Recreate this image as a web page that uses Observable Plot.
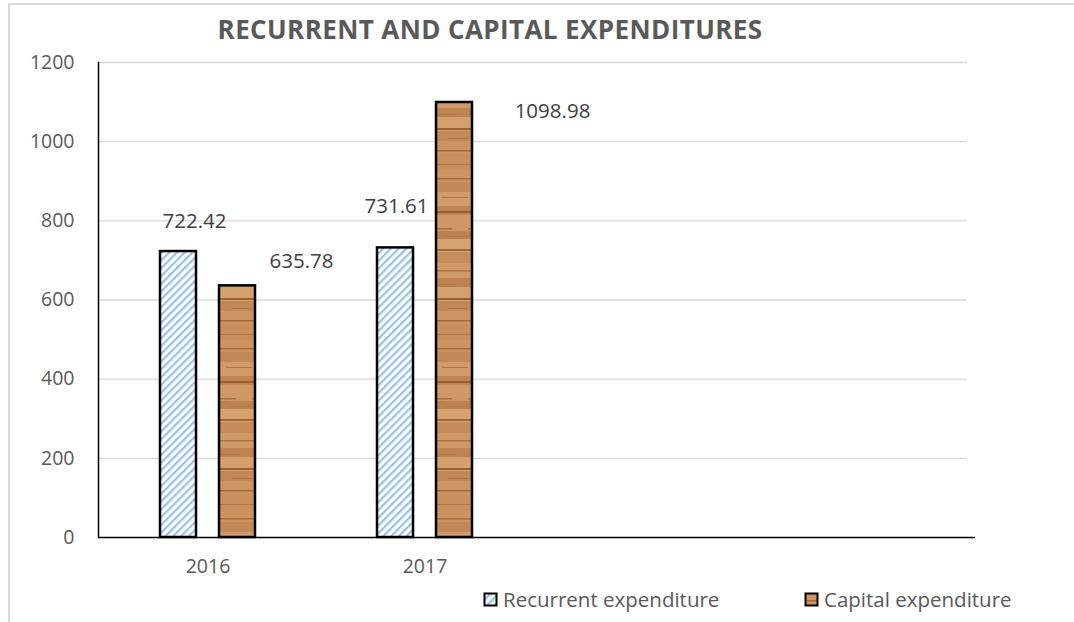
<!DOCTYPE html>
<html><head><meta charset="utf-8">
<script src="https://cdn.jsdelivr.net/npm/d3@7"></script>
<script src="https://cdn.jsdelivr.net/npm/@observablehq/plot@0.6"></script>
<style>
body{margin:0;background:#fff;font-family:"Open Sans",sans-serif;}
#wrap{position:relative;width:1074px;height:622px;overflow:hidden;background:#fff;}
#border{position:absolute;left:8px;top:3px;width:1200px;height:800px;border-left:2px solid #d9d9d9;border-top:2px solid #d9d9d9;}
#title{position:absolute;top:11px;left:0;width:980px;text-align:center;font-weight:700;font-size:26px;color:#595959;letter-spacing:0.4px;}
#chart{position:absolute;left:0;top:0;}
.leg{position:absolute;top:585px;display:flex;align-items:center;font-size:20.5px;color:#595959;white-space:nowrap;}
.leg svg{margin-right:5px;}
</style>
</head><body>
<div id="wrap">
  <div id="border"></div>
  <div id="chart"></div>
  <div id="title">RECURRENT AND CAPITAL EXPENDITURES</div>
  <div class="leg" id="leg0" style="left:483px"></div>
  <div class="leg" id="leg1" style="left:804px"></div>
</div>
<script>
// ---- data ----
const years = ["2016", "2017"];
const blankSlots = [" ", "  "];
const series = ["Recurrent expenditure", "Capital expenditure"];
const recurrent = [722.42, 731.61];
const capital = [635.78, 1098.98];
const yTicks = [0, 200, 400, 600, 800, 1000, 1200];

// ---- style ----
const seriesFill = ["url(#stripes)", "url(#wood)"];
const barInsets = [[61, 120], [120, 61]];      // [left, right] inset of each series inside the year band
const seriesShift = [-29.5, 29.5];             // label base shift per series (bar centre)
const labelNudge = [[16, -30], [64, -24], [1, -41], [98, 9]]; // rec2016, cap2016, rec2017, cap2017

const seriesRows = series.map((s, i) => years.map((yr, j) => ({
  year: yr, series: s, value: (i === 0 ? recurrent : capital)[j]
})));

const labelMarks = years.flatMap((yr, j) => series.map((s, i) => {
  const k = j * 2 + i;
  return Plot.text([seriesRows[i][j]], {
    x: "year", y: "value",
    text: d => d.value.toFixed(2),
    dx: seriesShift[i] + labelNudge[k][0], dy: labelNudge[k][1],
    fill: "#404040", fontSize: 20.5
  });
}));

const chart = Plot.plot({
  width: 1074, height: 580,
  marginLeft: 98, marginRight: 107, marginTop: 62, marginBottom: 43,
  style: {fontFamily: "'Open Sans', sans-serif", fontSize: "19.5px", color: "#595959", background: "transparent", overflow: "visible"},
  x: {domain: [...years, ...blankSlots], padding: 0, label: null, tickSize: 0, tickPadding: 22},
  y: {domain: [0, 1200], ticks: yTicks, tickFormat: d => String(d), label: null, tickSize: 0, tickPadding: 24},
  marks: [
    Plot.ruleY(yTicks.slice(1), {stroke: "#d9d9d9", strokeWidth: 1.3}),
    ...series.map((s, i) => Plot.barY(seriesRows[i], {
      x: "year", y: "value", fill: seriesFill[i], stroke: "#000", strokeWidth: 2.5,
      insetLeft: barInsets[i][0], insetRight: barInsets[i][1]
    })),
    Plot.ruleY([0], {stroke: "#000", strokeWidth: 1.5, insetRight: -8}),
    Plot.frame({anchor: "left", stroke: "#000", strokeWidth: 1.5}),
    ...labelMarks
  ]
});

// patterns (wood grain: soft bands plus a few dark streaks)
const woodBands = [
  [0,12,"#cd9462"],[12,10,"#c4895a"],[22,14,"#d29c6a"],[36,9,"#c08455"],[45,16,"#cf9867"],
  [61,8,"#bd8151"],[69,13,"#d6a370"],[82,11,"#c78c5b"],[93,15,"#d09a68"],[108,9,"#bf8352"],
  [117,14,"#d4a06e"],[131,10,"#c3885a"],[141,13,"#cc9463"],[154,16,"#c98f5e"]
];
const woodStreaks = [
  [8,1.5,"#9c6434",0,36],[27,1,"#a8703f",10,26],[41,2,"#8f5729",0,36],[58,1.5,"#a06838",0,20],
  [66,1,"#b07847",14,22],[79,2,"#955d2e",0,36],[100,1.5,"#a46c3b",0,36],[114,1,"#b07846",0,24],
  [128,2,"#8e5628",0,36],[138,1,"#a97140",16,20],[150,1.5,"#9a6233",0,36],[164,1,"#ab7342",0,36]
];
const svg = d3.select(chart);
const defs = svg.insert("defs", ":first-child");
const st = defs.append("pattern").attr("id", "stripes").attr("patternUnits", "userSpaceOnUse")
  .attr("width", 5.5).attr("height", 5.5).attr("patternTransform", "rotate(45)");
st.append("rect").attr("width", 5.5).attr("height", 5.5).attr("fill", "#fff");
st.append("rect").attr("width", 2.3).attr("height", 5.5).attr("fill", "#9cc3e8");
const wd = defs.append("pattern").attr("id", "wood").attr("patternUnits", "userSpaceOnUse")
  .attr("width", 36).attr("height", 170);
for (const [y, h, c] of woodBands) {
  wd.append("rect").attr("x", 0).attr("y", y).attr("width", 36).attr("height", h).attr("fill", c);
}
for (const [y, h, c, x, w] of woodStreaks) {
  wd.append("rect").attr("x", x).attr("y", y).attr("width", w).attr("height", h).attr("fill", c).attr("opacity", 0.85);
}
document.getElementById("chart").appendChild(chart);

// legend
series.forEach((s, i) => {
  const el = document.getElementById("leg" + i);
  el.innerHTML = `<svg width="15" height="15"><rect x="1.5" y="1.5" width="12" height="12" fill="${seriesFill[i]}" stroke="#000" stroke-width="2"/></svg><span>${s}</span>`;
});
</script>
</body></html>
